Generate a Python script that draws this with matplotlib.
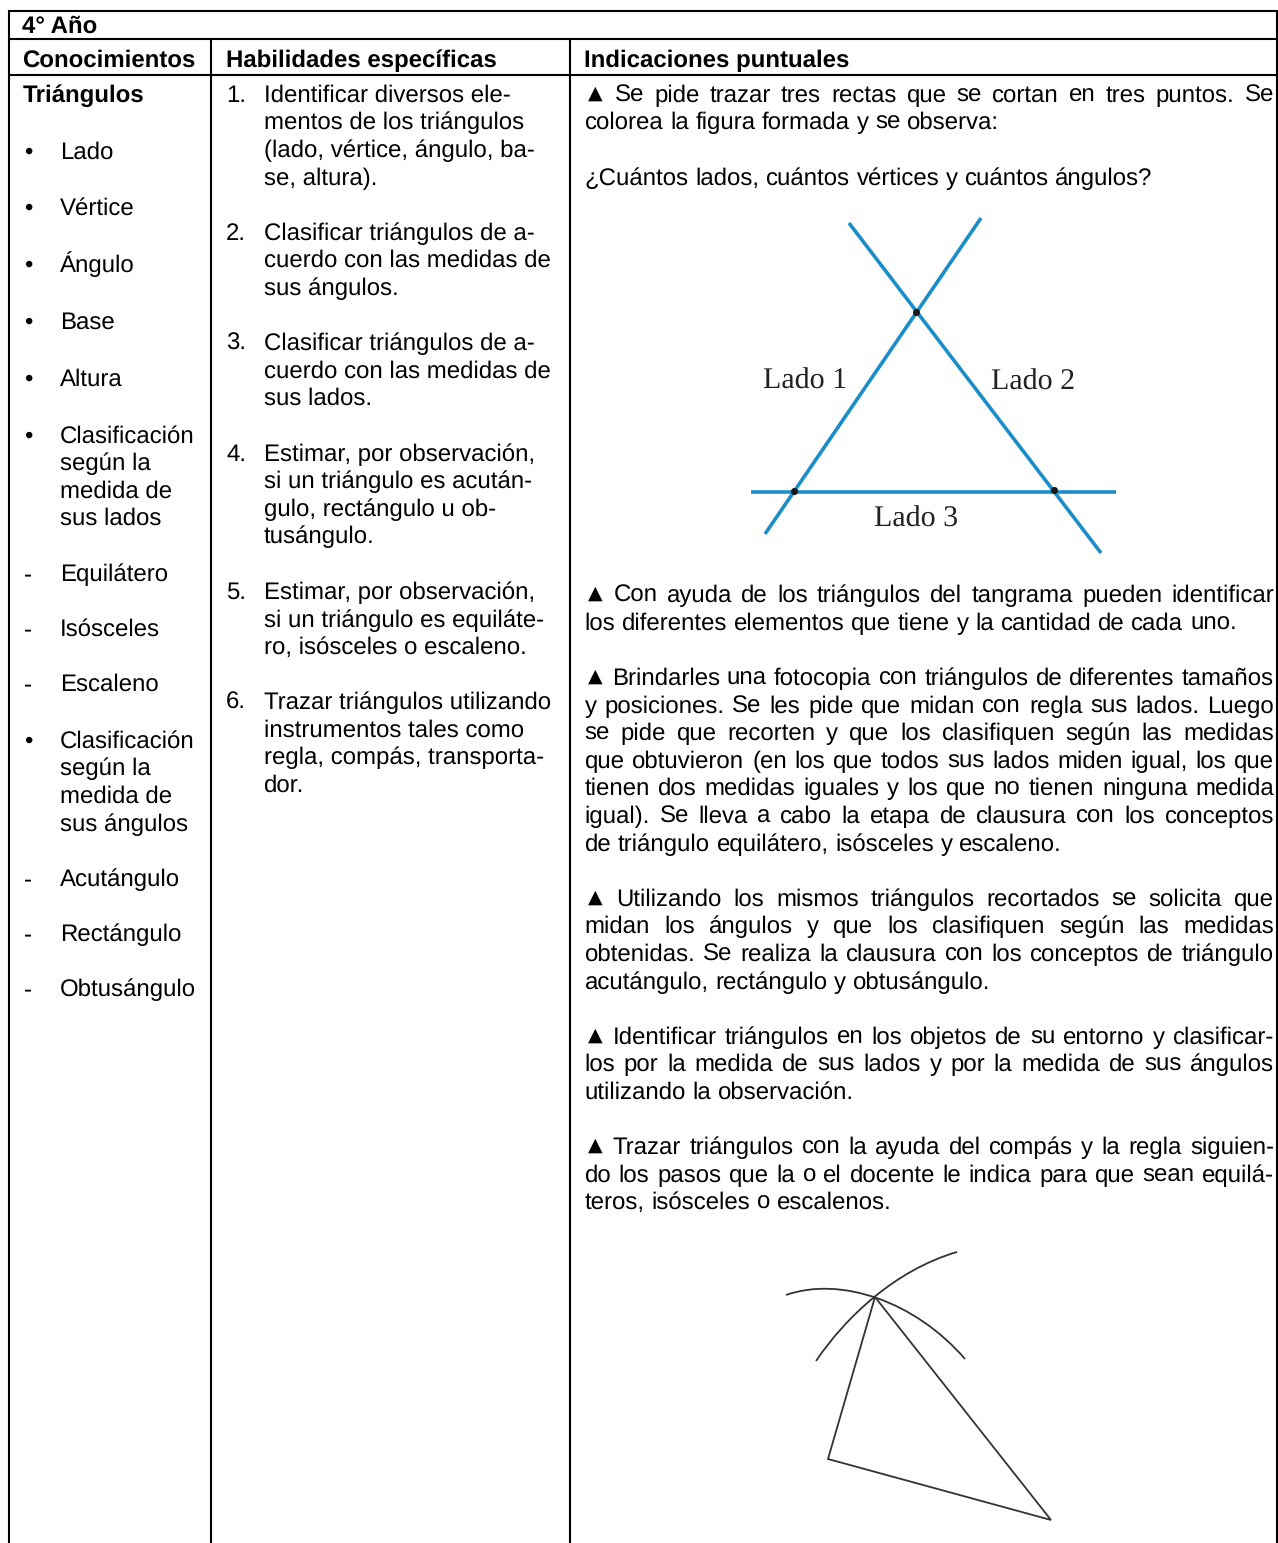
"""
Table page: 4 Ano, triangulos. Text is set line by line in pixel coordinates.
"""
import matplotlib
matplotlib.use("Agg")
import matplotlib.pyplot as plt
from matplotlib.path import Path
from matplotlib.patches import PathPatch

plt.rcParams["text.hinting"] = "no_hinting"
plt.rcParams["text.hinting_factor"] = 1

WIDTH, HEIGHT = 1278, 1543
FONT = "Liberation Sans"
SIZE = 17.2
BLUE = "#1b8ec9"
RIGHT_EDGE = 1274

TITLE = "4° Año"
HEADERS = ["Conocimientos", "Habilidades específicas", "Indicaciones puntuales"]
TOPIC = "Triángulos"

# first column: marker, text
COL1_MARKS = ["•", "•", "•", "•", "•", "•", "", "", "", "-", "-", "-", "•", "", "", "", "-", "-", "-"]
COL1_TEXT = ["Lado", "Vértice", "Ángulo", "Base", "Altura", "Clasificación", "según la",
             "medida de", "sus lados", "Equilátero", "Isósceles", "Escaleno",
             "Clasificación", "según la", "medida de", "sus ángulos",
             "Acutángulo", "Rectángulo", "Obtusángulo"]
COL1_Y = [159, 215, 272, 329, 386, 443, 470, 498, 525, 581, 636, 691,
          748, 775, 803, 831, 886, 941, 996]

# second column
COL2_NUMS = ["1.", "", "", "", "2.", "", "", "3.", "", "", "4.", "", "", "", "5.", "", "", "6.", "", "", ""]
COL2_TEXT = ["Identificar diversos ele-", "mentos de los triángulos",
             "(lado, vértice, ángulo, ba-", "se, altura).",
             "Clasificar triángulos de a-", "cuerdo con las medidas de", "sus ángulos.",
             "Clasificar triángulos de a-", "cuerdo con las medidas de", "sus lados.",
             "Estimar, por observación,", "si un triángulo es acután-",
             "gulo, rectángulo u ob-", "tusángulo.",
             "Estimar, por observación,", "si un triángulo es equiláte-",
             "ro, isósceles o escaleno.",
             "Trazar triángulos utilizando", "instrumentos tales como",
             "regla, compás, transporta-", "dor."]
COL2_Y = [102, 129, 157, 185, 240, 267, 295, 350, 378, 405,
          461, 488, 516, 543, 599, 627, 654, 709, 737, 764, 792]

# third column, True means the line is justified
COL3_TEXT = ["▲ Se pide trazar tres rectas que se cortan en tres puntos. Se",
             "colorea la figura formada y se observa:",
             "¿Cuántos lados, cuántos vértices y cuántos ángulos?",
             "▲ Con ayuda de los triángulos del tangrama pueden identificar",
             "los diferentes elementos que tiene y la cantidad de cada uno.",
             "▲ Brindarles una fotocopia con triángulos de diferentes tamaños",
             "y posiciones. Se les pide que midan con regla sus lados. Luego",
             "se pide que recorten y que los clasifiquen según las medidas",
             "que obtuvieron (en los que todos sus lados miden igual, los que",
             "tienen dos medidas iguales y los que no tienen ninguna medida",
             "igual). Se lleva a cabo la etapa de clausura con los conceptos",
             "de triángulo equilátero, isósceles y escaleno.",
             "▲ Utilizando los mismos triángulos recortados se solicita que",
             "midan los ángulos y que los clasifiquen según las medidas",
             "obtenidas. Se realiza la clausura con los conceptos de triángulo",
             "acutángulo, rectángulo y obtusángulo.",
             "▲ Identificar triángulos en los objetos de su entorno y clasificar-",
             "los por la medida de sus lados y por la medida de sus ángulos",
             "utilizando la observación.",
             "▲ Trazar triángulos con la ayuda del compás y la regla siguien-",
             "do los pasos que la o el docente le indica para que sean equilá-",
             "teros, isósceles o escalenos."]
COL3_JUST = [True, False, False, True, False, True, True, True, True, True, True, False,
             True, True, True, False, True, True, False, True, True, False]
COL3_Y = [102, 129, 185, 602, 630, 685, 713, 740, 768, 795, 823, 851,
          906, 933, 961, 989, 1044, 1071, 1099, 1154, 1182, 1209]

# blue line figure
LINE1_X, LINE1_Y = [765, 981], [534, 218]
LINE2_X, LINE2_Y = [849, 1101], [223, 553]
LINE3_X, LINE3_Y = [751, 1116], [491.5, 491.5]
DOTS_X, DOTS_Y = [794, 916, 1054], [491, 312, 490]
FIG_LABELS = ["Lado 1", "Lado 2", "Lado 3"]
FIG_LABELS_X = [763, 991, 874]
FIG_LABELS_Y = [389, 390, 527]

# compass figure
SIDES_X = [875, 828, 1051, 875]
SIDES_Y = [1297, 1459, 1520, 1297]
ARC_A = [(786, 1295), (840, 1276), (915, 1301), (965, 1359)]
ARC_B = [(816, 1361), (845, 1318), (895, 1270), (957, 1252)]

fig = plt.figure(figsize=(WIDTH / 100, HEIGHT / 100), dpi=100)
ax = fig.add_axes([0, 0, 1, 1])
ax.set_xlim(0, WIDTH)
ax.set_ylim(HEIGHT, 0)
ax.axis("off")
renderer = fig.canvas.get_renderer()


def put(x, y, s, weight="normal", size=SIZE, family=FONT):
    return ax.text(x, y, s, fontsize=size, fontweight=weight, family=family,
                   va="baseline", ha="left", color="black")


def word_width(s, size=SIZE):
    t = put(0, 0, s, size=size)
    w = t.get_window_extent(renderer).width
    t.remove()
    return w


def put_line(x, y, line, justified):
    """Sets one line word by word, stretching the gaps when justified"""
    words = line.split(" ")
    widths = [20 if w == "▲" else word_width(w) for w in words]
    gap = word_width("n n") - 2 * word_width("n")
    if justified:
        gap = (RIGHT_EDGE - x - sum(widths)) / (len(words) - 1)
    for w, ww in zip(words, widths):
        if w == "▲":
            put(x + 3.5, y - 3, w, size=14, family="DejaVu Sans")
        else:
            put(x, y, w)
        x += ww + gap


# table rules
rule = dict(color="black", lw=1.5, solid_capstyle="butt")
ax.plot([8, 1277], [11, 11], **rule)
ax.plot([8, 1277], [39, 39], **rule)
ax.plot([8, 1277], [75, 75], **rule)
ax.plot([8.5, 8.5], [10, HEIGHT], **rule)
ax.plot([1277, 1277], [10, HEIGHT], **rule)
ax.plot([211, 211], [39, HEIGHT], **rule)
ax.plot([570, 570], [39, HEIGHT], **rule)

put(22.5, 33, TITLE, weight="bold")
for x, s in zip([22.5, 225.5, 584.5], HEADERS):
    put(x, 67, s, weight="bold")
put(22.5, 102, TOPIC, weight="bold")

for mark, s, y in zip(COL1_MARKS, COL1_TEXT, COL1_Y):
    if mark:
        put(24, y, mark)
    put(60, y, s)

for num, s, y in zip(COL2_NUMS, COL2_TEXT, COL2_Y):
    if num:
        put(226, y, num)
    put(264, y, s)

for s, just, y in zip(COL3_TEXT, COL3_JUST, COL3_Y):
    put_line(584.5, y, s, just)

# figure with three lines
for xs, ys in [(LINE1_X, LINE1_Y), (LINE2_X, LINE2_Y), (LINE3_X, LINE3_Y)]:
    ax.plot(xs, ys, color=BLUE, lw=2.6, solid_capstyle="butt")
ax.scatter(DOTS_X, DOTS_Y, s=26, color="#1a1a1a", zorder=3, linewidths=0)
for s, x, y in zip(FIG_LABELS, FIG_LABELS_X, FIG_LABELS_Y):
    ax.text(x, y, s, fontsize=21.5, family="Liberation Serif", color="#222222",
            va="baseline", ha="left")

# compass figure
ax.plot(SIDES_X, SIDES_Y, color="#333333", lw=1.3, solid_joinstyle="miter")
codes = [Path.MOVETO, Path.CURVE4, Path.CURVE4, Path.CURVE4]
for arc in [ARC_A, ARC_B]:
    ax.add_patch(PathPatch(Path(arc, codes), fill=False, edgecolor="#333333", lw=1.3))

fig.savefig("out.png", dpi=100)
